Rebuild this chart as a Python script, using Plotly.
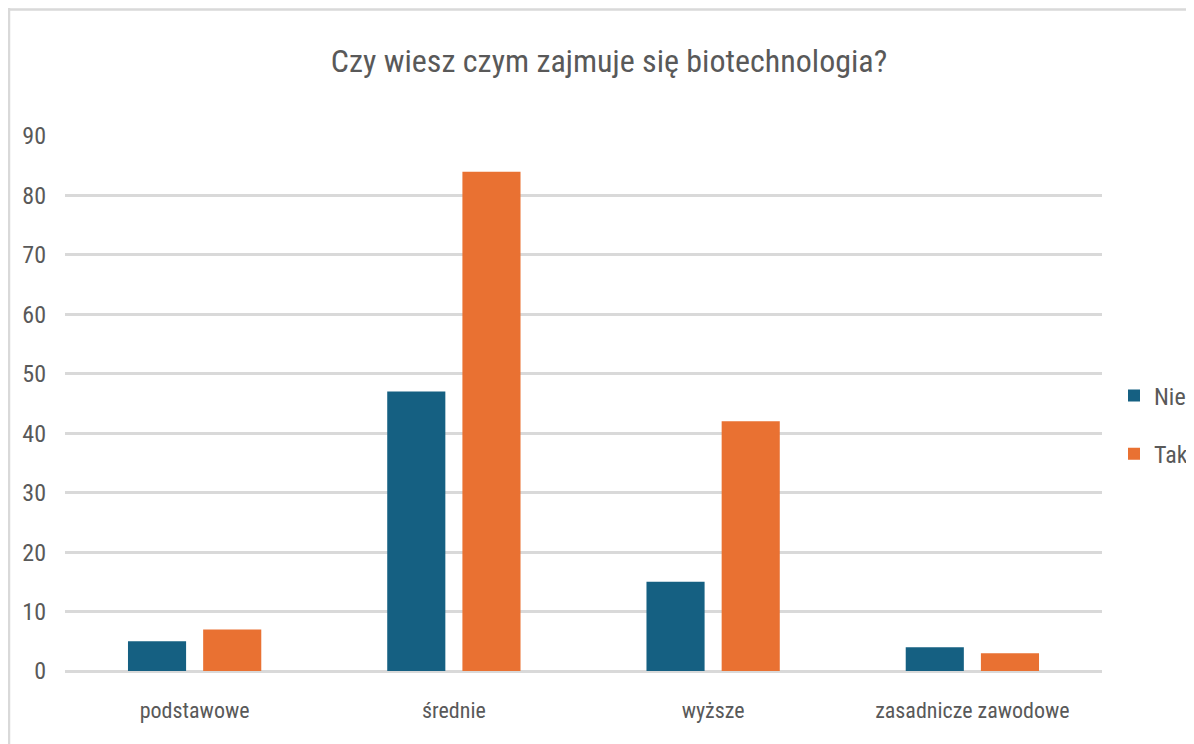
import plotly.graph_objects as go

categories = ["podstawowe", "średnie", "wyższe", "zasadnicze zawodowe"]
nie_values = [5, 47, 15, 4]
tak_values = [7, 84, 42, 3]
series_names = ["Nie", "Tak"]
y_ticks = [0, 10, 20, 30, 40, 50, 60, 70, 80, 90]
title_text = "Czy wiesz czym zajmuje się biotechnologia?"

# page body adds an 8px margin, so the figure is 8px smaller than the window
W, H = 1186, 736
L, R, T, B = 57, 1094, 128, 663
FONT = "Roboto Condensed, Liberation Sans Narrow, sans-serif"
TXT = "#595959"
GRID = "#D9D9D9"

fig = go.Figure()
fig.add_trace(go.Bar(x=categories, y=nie_values, name=series_names[0],
                     marker=dict(color="#156082", line=dict(width=0)),
                     legendgroup="a"))
fig.add_trace(go.Bar(x=categories, y=tak_values, name=series_names[1],
                     marker=dict(color="#E97132", line=dict(width=0)),
                     legendgroup="b"))


def px_x(p):
    return (p - L) / (R - L)


def px_y(p):
    return (B - p) / (B - T)


fig.update_layout(
    width=W, height=H,
    margin=dict(l=L, r=W - R, t=T, b=H - B, autoexpand=False),
    paper_bgcolor="white", plot_bgcolor="white",
    barmode="group", bargap=0.42, bargroupgap=0.227,
    font=dict(family=FONT, color=TXT, size=24),
    title=dict(text=title_text, x=601 / W, xanchor="center",
               y=1 - 53 / H, yanchor="middle",
               font=dict(family=FONT, size=32, color=TXT)),
    xaxis=dict(showgrid=False, showline=False, ticks="",
               tickfont=dict(size=22, color=TXT), ticklabelstandoff=24),
    yaxis=dict(range=[0, 90], tickvals=y_ticks, showgrid=True, gridcolor=GRID,
               gridwidth=2.5, zeroline=True, zerolinecolor=GRID, zerolinewidth=2.5,
               showline=False, ticks="", tickfont=dict(size=24, color=TXT),
               ticklabelstandoff=18),
    legend=dict(x=px_x(1106), xanchor="left", y=px_y(417), yanchor="middle",
                font=dict(size=24, color=TXT), tracegroupgap=24,
                itemwidth=30, bgcolor="rgba(0,0,0,0)"),
    showlegend=True,
)

fig.add_shape(type="line", xref="paper", yref="paper",
              x0=px_x(0), x1=px_x(W + 5), y0=px_y(1.5), y1=px_y(1.5),
              line=dict(color=GRID, width=2.5))
fig.add_shape(type="line", xref="paper", yref="paper",
              x0=px_x(1), x1=px_x(1), y0=px_y(0), y1=px_y(H + 5),
              line=dict(color=GRID, width=2.5))

fig.write_html("out.html")
